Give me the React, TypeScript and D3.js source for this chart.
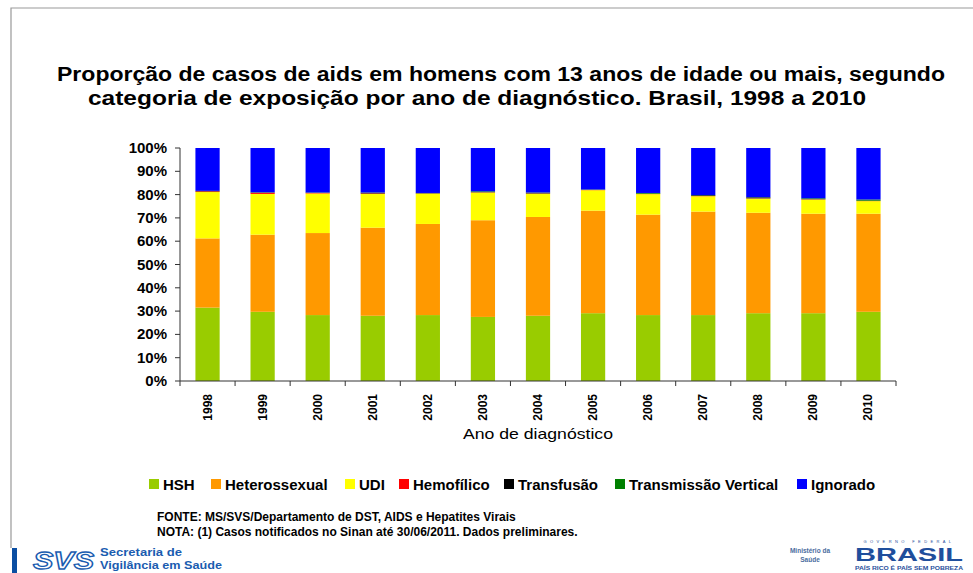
import React from 'react';
import * as d3 from 'd3';

// anos de diagnóstico
const years = ['1998', '1999', '2000', '2001', '2002', '2003', '2004', '2005', '2006', '2007', '2008', '2009', '2010'];

// % por categoria de exposição
const hsh = [31.5, 29.7, 28.3, 28.0, 28.3, 27.5, 28.0, 29.1, 28.3, 28.3, 29.1, 29.1, 29.7];
const heterossexual = [29.7, 33.1, 35.2, 37.8, 39.1, 41.5, 42.4, 44.0, 43.1, 44.4, 43.1, 42.7, 42.1];
const udi = [19.9, 17.5, 17.0, 14.5, 13.0, 11.9, 10.0, 8.8, 8.8, 6.6, 6.1, 6.1, 5.4];
const hemofilico = [0.3, 0.5, 0.2, 0.2, 0.1, 0.1, 0.1, 0.1, 0.1, 0.1, 0.1, 0.1, 0.1];
const transfusao = [0.1, 0.1, 0.1, 0.3, 0.1, 0.1, 0.3, 0.1, 0.1, 0.3, 0.4, 0.1, 0.1];
const vertical = [0.1, 0.1, 0.1, 0.1, 0.1, 0.3, 0.1, 0.1, 0.3, 0.1, 0.1, 0.3, 0.5];
const ignorado = [18.4, 19.0, 19.1, 19.1, 19.3, 18.6, 19.1, 17.8, 19.3, 20.2, 21.1, 21.6, 22.1];

const categories = ['HSH', 'Heterossexual', 'UDI', 'Hemofílico', 'Transfusão', 'Transmissão Vertical', 'Ignorado'];
const colors = ['#99CC00', '#FF9900', '#FFFF00', '#FF0000', '#000000', '#008000', '#0000FF'];
const yTicks = [0, 10, 20, 30, 40, 50, 60, 70, 80, 90, 100];

const series = [hsh, heterossexual, udi, hemofilico, transfusao, vertical, ignorado];
const rows = years.map((year, i) => {
    const r: any = { year };
    categories.forEach((c, k) => { r[c] = series[k][i]; });
    return r;
});

// legend layout
const legendX = [149, 211, 345, 399, 504, 615, 797];

const font = 'Arial, "Liberation Sans", sans-serif';

export default function App() {
    const W = 973, H = 573;
    const margin = { top: 148, left: 180, right: 77, bottom: 192 };

    const x = d3.scaleBand()
        .domain(years)
        .range([margin.left, W - margin.right])
        .paddingInner(0.56)
        .paddingOuter(0.28);

    const y = d3.scaleLinear()
        .domain([0, 100])
        .range([H - margin.bottom, margin.top]);

    const stacked = d3.stack<any>().keys(categories)(rows);
    const color = d3.scaleOrdinal<string, string>().domain(categories).range(colors);

    const step = x.step();
    const x0 = margin.left, x1 = W - margin.right;
    const yBase = y(0);
    const boundaries = d3.range(years.length + 1).map(i => x0 + i * step);

    return (
        <svg width={W} height={H} style={{ position: 'fixed', left: 0, top: 0, background: '#fff' }}
             fontFamily={font}>
            {/* frame */}
            <path d={`M11,548 V8 H${W}`} fill="none" stroke="#999" strokeWidth={1.2} />

            {/* title */}
            <text x={57} y={81} fontSize={20} fontWeight="bold" textLength={888} lengthAdjust="spacingAndGlyphs">
                Proporção de casos de aids em homens com 13 anos de idade ou mais, segundo
            </text>
            <text x={88} y={105} fontSize={20} fontWeight="bold" textLength={778} lengthAdjust="spacingAndGlyphs">
                categoria de exposição por ano de diagnóstico. Brasil, 1998 a 2010
            </text>

            {/* bars */}
            {stacked.map(s => (
                <g key={s.key} fill={color(s.key)}>
                    {s.map((d, i) => (
                        <rect key={i}
                              x={x(d.data.year)}
                              y={y(d[1])}
                              width={x.bandwidth()}
                              height={Math.max(0, y(d[0]) - y(d[1]))} />
                    ))}
                </g>
            ))}

            {/* y axis */}
            <line x1={x0} x2={x0} y1={y(100)} y2={yBase} stroke="#333" />
            {yTicks.map(t => (
                <g key={t}>
                    <line x1={x0 - 5} x2={x0} y1={y(t)} y2={y(t)} stroke="#333" />
                    <text x={x0 - 13} y={y(t) + 5} fontSize={15} fontWeight="bold" textAnchor="end">{t}%</text>
                </g>
            ))}

            {/* x axis */}
            <line x1={x0} x2={x1} y1={yBase} y2={yBase} stroke="#333" />
            {boundaries.map((bx, i) => (
                <line key={i} x1={bx} x2={bx} y1={yBase} y2={yBase + 5} stroke="#333" />
            ))}
            {years.map(yr => {
                const cx = (x(yr) as number) + x.bandwidth() / 2;
                return (
                    <text key={yr} transform={`translate(${cx + 4},${yBase + 13}) rotate(-90)`}
                          fontSize={12} fontWeight="bold" textAnchor="end">{yr}</text>
                );
            })}
            <text x={(x0 + x1) / 2} y={439} fontSize={15} textAnchor="middle" textLength={150}
                  lengthAdjust="spacingAndGlyphs">Ano de diagnóstico</text>

            {/* legend */}
            {categories.map((c, i) => (
                <g key={c} transform={`translate(${legendX[i]},479)`}>
                    <rect width={10} height={10} fill={colors[i]} />
                    <text x={14} y={10.5} fontSize={15} fontWeight="bold">{c}</text>
                </g>
            ))}

            {/* notes */}
            <text x={157} y={521} fontSize={12} fontWeight="bold">FONTE: MS/SVS/Departamento de DST, AIDS e Hepatites Virais</text>
            <text x={157} y={536} fontSize={12} fontWeight="bold">NOTA: (1) Casos notificados no Sinan até 30/06/2011. Dados preliminares.</text>

            {/* SVS logo */}
            <rect x={12} y={548} width={5} height={25} fill="#0B4EA2" />
            <text x={33} y={569} fontSize={24} fontWeight="bold" fontStyle="italic" fill="#fff" stroke="#1A5CB0"
                  strokeWidth={1.3} textLength={61} lengthAdjust="spacingAndGlyphs">SVS</text>
            <text x={100} y={556} fontSize={11} fontWeight="bold" fill="#1A5CB0"
                  textLength={82} lengthAdjust="spacingAndGlyphs">Secretaria de</text>
            <text x={100} y={569} fontSize={11} fontWeight="bold" fill="#1A5CB0"
                  textLength={122} lengthAdjust="spacingAndGlyphs">Vigilância em Saúde</text>

            {/* Ministério / Brasil */}
            <text x={810} y={553} fontSize={6.5} fontWeight="bold" fill="#4B6C9E" textAnchor="middle">Ministério da</text>
            <text x={810} y={562} fontSize={6.5} fontWeight="bold" fill="#4B6C9E" textAnchor="middle">Saúde</text>
            <text x={909} y={543} fontSize={4} fill="#1F4E9C" textAnchor="middle" letterSpacing={3.4}>GOVERNO FEDERAL</text>
            <text x={855} y={561} fontSize={18} fontWeight="bold" fill="#1F4E9C" textLength={108}
                  lengthAdjust="spacingAndGlyphs">BRASIL</text>
            <text x={855} y={570} fontSize={4.5} fontWeight="bold" fill="#1F4E9C" textLength={108}
                  lengthAdjust="spacingAndGlyphs">PAÍS RICO É PAÍS SEM POBREZA</text>
        </svg>
    );
}
